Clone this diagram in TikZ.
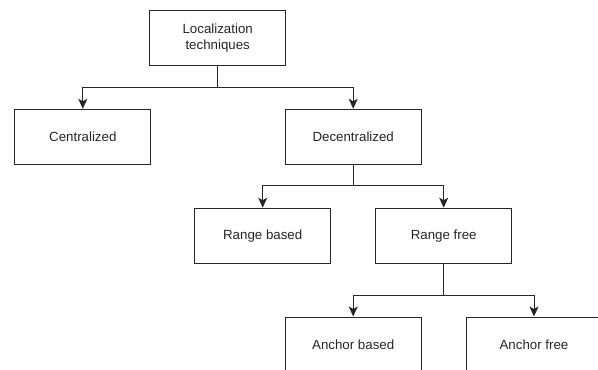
\documentclass[tikz,border=0pt]{standalone}
\usepackage{fontspec}
\setmainfont{Liberation Sans}
\usetikzlibrary{arrows.meta}
\begin{document}
\begin{tikzpicture}[x=1pt,y=-1pt,
  box/.style={draw=black!85, line width=1pt, fill=white, minimum width=136pt, minimum height=55pt, inner sep=0pt, align=center, font=\fontsize{13.3}{15.5}\selectfont, text=black!85},
  arr/.style={draw=black!85, line width=1pt, -{Stealth[length=10pt,width=9pt,inset=2.5pt]}}]
\useasboundingbox (0,0) rectangle (598,370);
\node[box] (top) at (217.7,38.3) {\raisebox{-1pt}{\begin{tabular}{@{}c@{}}Localization\\techniques\end{tabular}}};
\node[box] (cen) at (82.8,136.8) {\raisebox{-1pt}{Centralized}};
\node[box] (dec) at (353.2,136.8) {\raisebox{-1pt}{Decentralized}};
\node[box] (rb) at (262.7,235.7) {\raisebox{-1pt}{Range based}};
\node[box] (rf) at (443.7,235.7) {\raisebox{-1pt}{Range free}};
\node[box] (ab) at (353.2,344.5) {\raisebox{-1pt}{Anchor based}};
\node[box] (af) at (534,344.5) {\raisebox{-1pt}{Anchor free}};
\coordinate (j1) at (217.7,87.7);
\coordinate (j2) at (353.2,185.7);
\coordinate (j3) at (443.7,295.7);
\draw[arr] (top.south) -- (j1) -| (cen.north);
\draw[arr] (top.south) -- (j1) -| (dec.north);
\draw[arr] (dec.south) -- (j2) -| (rb.north);
\draw[arr] (dec.south) -- (j2) -| (rf.north);
\draw[arr] (rf.south) -- (j3) -| (ab.north);
\draw[arr] (rf.south) -- (j3) -| (af.north);
\end{tikzpicture}
\end{document}
